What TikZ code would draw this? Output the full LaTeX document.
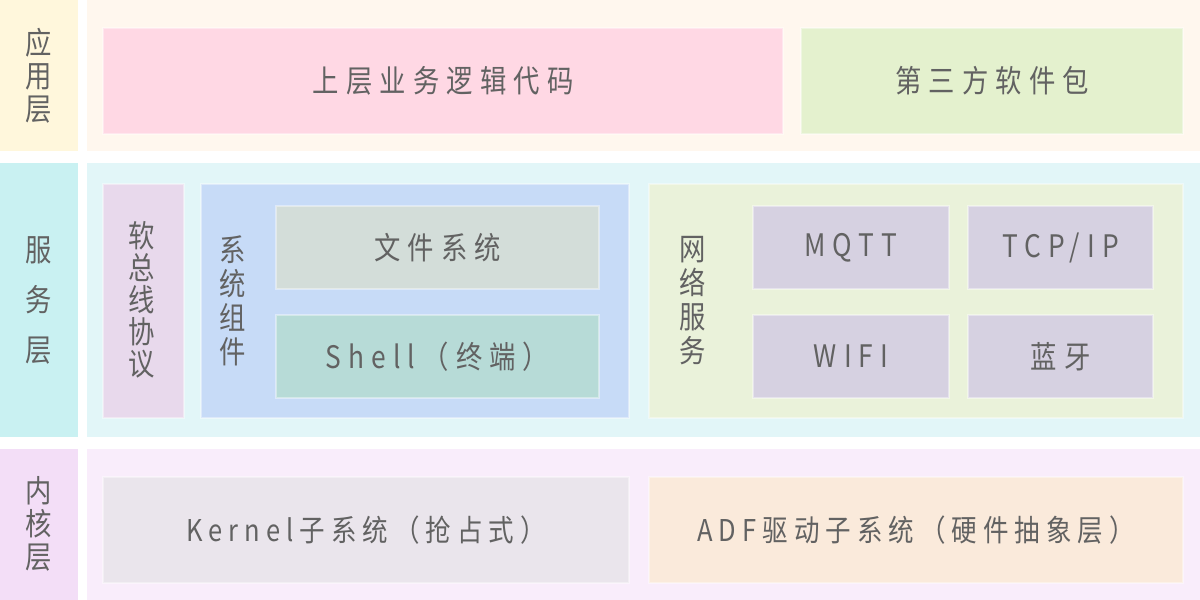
\documentclass[tikz,border=0pt]{standalone}
\usepackage{fontspec}
\newfontfamily\cjk[FakeStretch=0.85]{Noto Sans CJK SC}
\newfontfamily\cjksp[FakeStretch=0.85,LetterSpace=23]{Noto Sans CJK SC}
\newfontfamily\cjkspk[FakeStretch=0.85,LetterSpace=20]{Noto Sans CJK SC}
\definecolor{txt}{HTML}{626262}
\definecolor{aLab}{HTML}{FFF7DC}
\definecolor{aPan}{HTML}{FFF7EE}
\definecolor{aPink}{HTML}{FFD8E4}
\definecolor{aGreen}{HTML}{E4F1CE}
\definecolor{sLab}{HTML}{C9F1F2}
\definecolor{sPan}{HTML}{E2F6F8}
\definecolor{sBus}{HTML}{E8D9EC}
\definecolor{sSys}{HTML}{C7DBF7}
\definecolor{sFs}{HTML}{D3DDD9}
\definecolor{sSh}{HTML}{B7DBD7}
\definecolor{sNet}{HTML}{EAF2DA}
\definecolor{sNi}{HTML}{D6D1E1}
\definecolor{kLab}{HTML}{F3DEF7}
\definecolor{kPan}{HTML}{F9EDFB}
\definecolor{kKer}{HTML}{EAE5EC}
\definecolor{kAdf}{HTML}{FAEADB}
\newcommand\bx[7]{\node[box, fill=#6, minimum width={#4pt-#2pt}, minimum height={#5pt-#3pt}] (#1) at (#2,#3) {#7};}
\newcommand\bg[6]{\node[bgbox, fill=#6, minimum width={#4pt-#2pt}, minimum height={#5pt-#3pt}] (#1) at (#2,#3) {};}
\begin{document}
\begin{tikzpicture}[x=1pt,y=-1pt,
  box/.style={rectangle, anchor=north west, inner sep=0pt, draw=white, draw opacity=0.4, line width=2pt, text=txt, font=\cjksp\fontsize{31}{33}\selectfont},
  kbox/.style={box, font=\cjkspk\fontsize{30}{33}\selectfont},
  bgbox/.style={rectangle, anchor=north west, inner sep=0pt, draw=none},
  vlabel/.style={text=txt, align=center, inner sep=0pt, font=\cjk\fontsize{31}{33}\selectfont}]
\useasboundingbox (0,0) rectangle (1200,600);
% application layer
\bg{appl}{0}{0}{78}{151}{aLab}
\bg{appp}{87}{0}{1200}{151}{aPan}
\node[vlabel] (appt) at (39,76) {应\\用\\层};
\bx{biz}{102}{27}{782}{133}{aPink}{上层业务逻辑代码}
\bx{third}{800}{27}{1182}{133}{aGreen}{第三方软件包}
% service layer
\bg{svcl}{0}{163}{78}{437}{sLab}
\bg{svcp}{87}{163}{1200}{437}{sPan}
\node[vlabel, font=\cjk\fontsize{31}{50}\selectfont] (svct) at (39,300) {服\\务\\层};
\bx{bus}{102}{183}{183}{417}{sBus}{}
\node[vlabel, font=\cjk\fontsize{31}{32}\selectfont] (bust) at (142,300) {软\\总\\线\\协\\议};
\bx{sys}{200}{183}{628}{417}{sSys}{}
\node[vlabel, font=\cjk\fontsize{31}{34}\selectfont] (syst) at (233,301) {系\\统\\组\\件};
\bx{fs}{275}{205}{598}{288}{sFs}{文件系统}
\bx{sh}{275}{314}{598}{397}{sSh}{Shell（终端）}
\bx{net}{648}{183}{1182}{417}{sNet}{}
\node[vlabel, font=\cjk\fontsize{31}{34}\selectfont] (nett) at (693,301) {网\\络\\服\\务};
\bx{mqtt}{752}{205}{948}{288}{sNi}{MQTT}
\bx{tcp}{967}{205}{1152}{288}{sNi}{TCP/IP}
\bx{wifi}{752}{314}{948}{397}{sNi}{WIFI}
\bx{bt}{967}{314}{1152}{397}{sNi}{蓝牙}
% kernel layer
\bg{kerl}{0}{449}{78}{600}{kLab}
\bg{kerp}{87}{449}{1200}{600}{kPan}
\node[vlabel] (kert) at (39,524) {内\\核\\层};
\node[kbox, fill=kKer, minimum width={628pt-102pt}, minimum height={582pt-476pt}] (ker) at (102,476) {Kernel子系统（抢占式）};
\node[kbox, fill=kAdf, minimum width={1182pt-648pt}, minimum height={582pt-476pt}] (adf) at (648,476) {ADF驱动子系统（硬件抽象层）};
\end{tikzpicture}
\end{document}
